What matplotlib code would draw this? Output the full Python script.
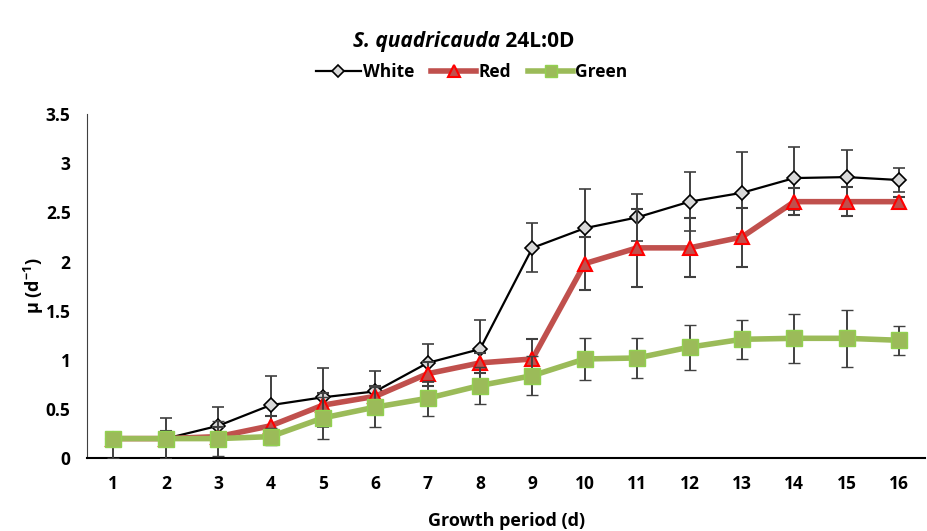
import numpy as np
import matplotlib
matplotlib.use("Agg")
from matplotlib import pyplot as plt
from matplotlib.lines import Line2D

plt.rcParams['font.family'] = ['Open Sans', 'DejaVu Sans']
plt.rcParams['font.weight'] = 'bold'
plt.rcParams['mathtext.fontset'] = 'custom'
plt.rcParams['mathtext.rm'] = 'Open Sans:bold'
plt.rcParams['mathtext.it'] = 'Open Sans:bold:italic'

days = list(range(1, 17))

white = [0.20, 0.20, 0.33, 0.54, 0.62, 0.68, 0.97, 1.11, 2.14, 2.34, 2.45, 2.61, 2.70, 2.85, 2.86, 2.83]
white_err = [0.06, 0.21, 0.19, 0.30, 0.30, 0.21, 0.19, 0.30, 0.25, 0.40, 0.24, 0.30, 0.42, 0.32, 0.28, 0.12]

red = [0.20, 0.20, 0.22, 0.33, 0.54, 0.63, 0.86, 0.97, 1.01, 1.98, 2.14, 2.14, 2.25, 2.61, 2.61, 2.61]
red_err = [0.04, 0.08, 0.10, 0.10, 0.12, 0.10, 0.12, 0.10, 0.20, 0.27, 0.40, 0.30, 0.30, 0.14, 0.15, 0.05]

green = [0.20, 0.20, 0.20, 0.22, 0.41, 0.52, 0.61, 0.74, 0.84, 1.01, 1.02, 1.13, 1.21, 1.22, 1.22, 1.20]
green_err_low = [0.20, 0.08, 0.18, 0.09, 0.21, 0.20, 0.18, 0.19, 0.20, 0.21, 0.20, 0.23, 0.20, 0.25, 0.29, 0.15]
green_err_high = [0.06, 0.08, 0.18, 0.09, 0.21, 0.20, 0.18, 0.19, 0.20, 0.21, 0.20, 0.23, 0.20, 0.25, 0.29, 0.15]

fig = plt.figure(figsize=(9.28, 5.31), dpi=100)
ax = fig.add_axes([0.094, 0.137, 0.903, 0.648])

ebar = dict(ecolor='#404040', elinewidth=1.4, capsize=4, capthick=1.4)

white_style = dict(color='black', lw=1.6, marker='D', ms=7, mfc='#d9d9d9', mec='black', mew=1.2)
red_style = dict(color='#c0504d', lw=4, marker='^', ms=10, mfc='#c0504d', mec='#ff0000', mew=1.5)
green_style = dict(color='#9bbb59', lw=4, marker='s', ms=11, mfc='#9bbb59', mec='#92d050', mew=1)

ax.errorbar(days, white, yerr=white_err, zorder=3, **white_style, **ebar)
ax.errorbar(days, red, yerr=red_err, zorder=4, **red_style, **ebar)
ax.errorbar(days, green, yerr=[green_err_low, green_err_high], zorder=5, **green_style, **ebar)

ax.set_xlim(0.5, 16.5)
ax.set_ylim(0, 3.5)
ax.set_xticks(days)
ax.set_yticks(np.arange(0, 3.51, 0.5))
ax.set_yticklabels(['0', '0.5', '1', '1.5', '2', '2.5', '3', '3.5'])
ax.tick_params(length=0, labelsize=12.5, pad=12)
for s in ['top', 'right']:
    ax.spines[s].set_visible(False)
ax.spines['left'].set_color('#404040')
ax.spines['bottom'].set_linewidth(1.5)

ax.set_xlabel('Growth period (d)', fontsize=13, fontweight='bold', labelpad=14)
ax.set_ylabel(r'μ (d$^{-1}$)', fontsize=13, fontweight='bold', labelpad=0)

# legend without error bars
handles = [Line2D([], [], **{**white_style, 'ms': 6}),
           Line2D([], [], **{**red_style, 'ms': 8}),
           Line2D([], [], **{**green_style, 'ms': 8})]
labels = ['White', 'Red', 'Green']
fig.legend(handles, labels, loc='center', bbox_to_anchor=(0.508, 0.865), ncol=3,
           frameon=False, fontsize=12.5, handlelength=2.6, columnspacing=1.0, handletextpad=0.1)

# title: italic species name + plain part
fig.canvas.draw()
r = fig.canvas.get_renderer()
t1 = fig.text(0, 0.922, 'S. quadricauda', fontsize=15, fontstyle='italic', fontweight='bold', va='center')
t2 = fig.text(0, 0.922, ' 24L:0D', fontsize=15, fontweight='bold', va='center')
w1 = t1.get_window_extent(r).width / fig.bbox.width
w2 = t2.get_window_extent(r).width / fig.bbox.width
x0 = 0.5 - (w1 + w2) / 2
t1.set_x(x0)
t2.set_x(x0 + w1)

fig.savefig('out.png', dpi=100)
